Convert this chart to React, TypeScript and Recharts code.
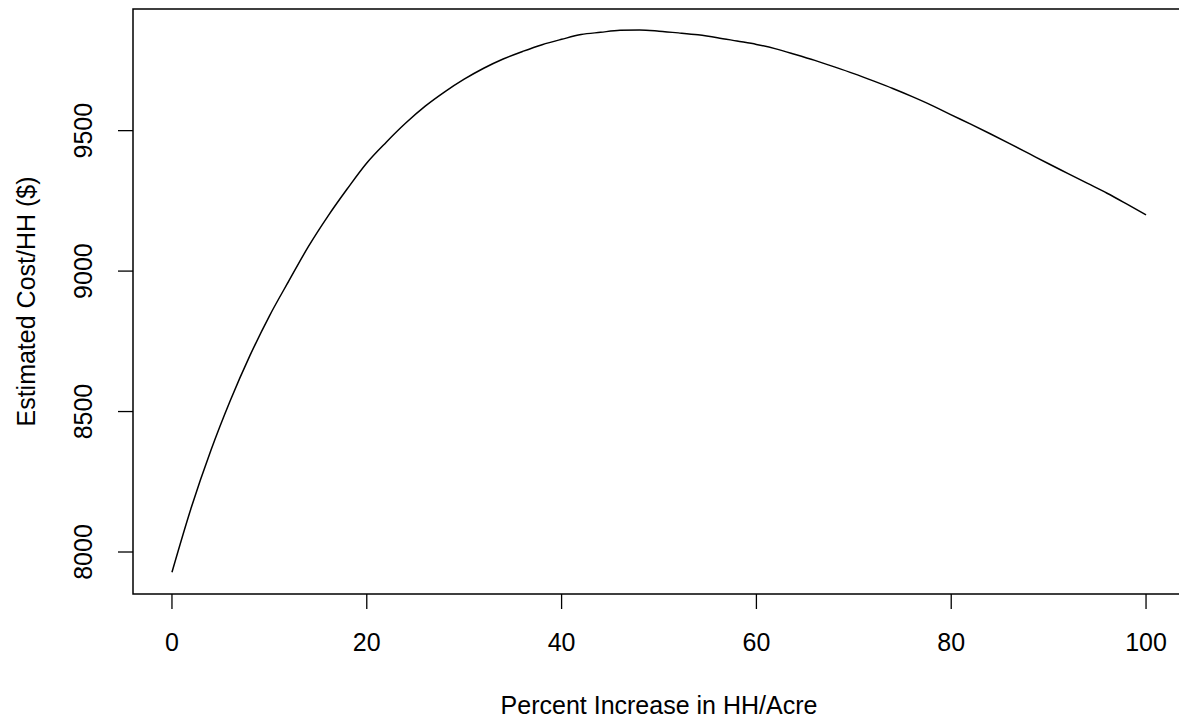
import { LineChart, Line, XAxis, YAxis, ReferenceArea } from "recharts";

// percent increase in HH/acre (x) and estimated cost per household (y)
const pctIncrease = [
  0, 2, 4, 6, 8, 10, 12, 14, 16, 18, 20, 22, 24, 26, 28, 30, 32, 34, 36, 38,
  40, 42, 44, 46, 48, 50, 52, 54, 56, 58, 60, 62, 64, 66, 68, 70, 72, 74, 76,
  78, 80, 82, 84, 86, 88, 90, 92, 94, 96, 98, 100,
];
const costPerHH = [
  7928, 8160, 8362, 8540, 8699, 8840, 8965, 9087, 9195, 9293, 9385, 9459,
  9527, 9587, 9638, 9683, 9722, 9755, 9782, 9806, 9825, 9842, 9850, 9857,
  9858, 9854, 9848, 9841, 9831, 9819, 9807, 9791, 9771, 9750, 9727, 9703,
  9677, 9650, 9621, 9590, 9556, 9523, 9489, 9454, 9418, 9382, 9347, 9312,
  9277, 9239, 9200,
];
const xTicks = [0, 20, 40, 60, 80, 100];
const yTicks = [8000, 8500, 9000, 9500];

const xLabel = "Percent Increase in HH/Acre";
const yLabel = "Estimated Cost/HH ($)";

const data = pctIncrease.map((x, i) => ({ x, cost: costPerHH[i] }));

// R pads the data range by 4% each side
const X_DOMAIN: [number, number] = [-4, 104];
const Y_DOMAIN: [number, number] = [7850.5, 9933];

const FONT = "'Liberation Sans', Arial, sans-serif";

const YTick = (props: any) => {
  const { y, payload } = props;
  return (
    <text
      transform={`translate(83, ${y}) rotate(-90)`}
      textAnchor="middle"
      dy="0.36em"
      fontSize={25}
      fontFamily={FONT}
      fill="#000"
    >
      {payload.value}
    </text>
  );
};

export default function App() {
  return (
    <div
      style={{
        position: "fixed",
        left: 0,
        top: 0,
        width: 1179,
        height: 719,
        overflow: "hidden",
        background: "#fff",
      }}
    >
      <LineChart
        width={1200}
        height={719}
        data={data}
        margin={{ top: 9, right: 15, bottom: 0, left: 0 }}
      >
        <XAxis
          dataKey="x"
          type="number"
          domain={X_DOMAIN}
          ticks={xTicks}
          allowDataOverflow
          axisLine={false}
          tickSize={15}
          tickMargin={24}
          tickLine={{ stroke: "#000", strokeWidth: 1.3 }}
          tick={{ fontSize: 25, fontFamily: FONT, fill: "#000" }}
          height={125}
          label={{
            value: xLabel,
            content: (p: any) => {
              const vb = p.viewBox;
              return (
                <text
                  x={vb.x + vb.width / 2}
                  y={714}
                  textAnchor="middle"
                  fontSize={25}
                  fontFamily={FONT}
                  fill="#000"
                >
                  {xLabel}
                </text>
              );
            },
          }}
        />
        <YAxis
          type="number"
          domain={Y_DOMAIN}
          ticks={yTicks}
          allowDataOverflow
          axisLine={false}
          tickSize={15}
          tickLine={{ stroke: "#000", strokeWidth: 1.3 }}
          tick={<YTick />}
          width={133}
          label={{
            value: yLabel,
            content: (p: any) => {
              const vb = p.viewBox;
              const cy = vb.y + vb.height / 2;
              return (
                <text
                  transform={`translate(26, ${cy}) rotate(-90)`}
                  textAnchor="middle"
                  dy="0.36em"
                  fontSize={25}
                  fontFamily={FONT}
                  fill="#000"
                >
                  {yLabel}
                </text>
              );
            },
          }}
        />
        <ReferenceArea
          x1={X_DOMAIN[0]}
          x2={X_DOMAIN[1]}
          y1={Y_DOMAIN[0]}
          y2={Y_DOMAIN[1]}
          fill="none"
          stroke="#000"
          strokeWidth={1.5}
          ifOverflow="visible"
        />
        <Line
          dataKey="cost"
          type="monotone"
          stroke="#000"
          strokeWidth={1.5}
          dot={false}
          isAnimationActive={false}
        />
      </LineChart>
    </div>
  );
}
